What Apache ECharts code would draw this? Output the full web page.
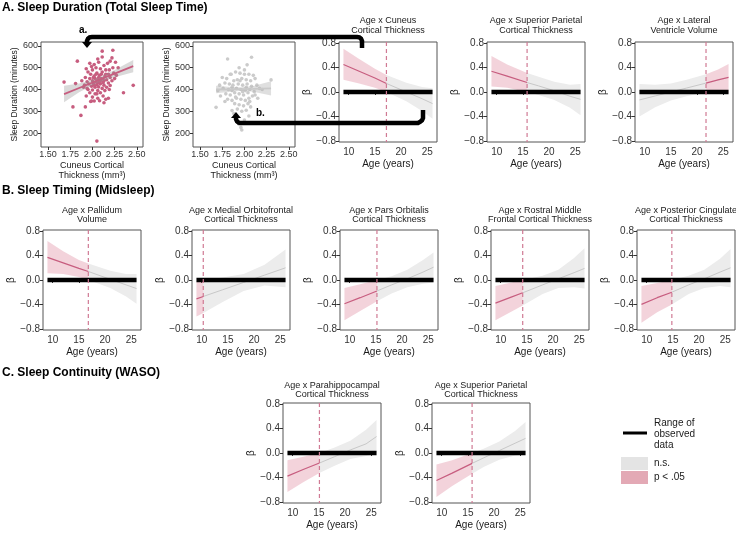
<!DOCTYPE html>
<html><head><meta charset="utf-8">
<script src="https://cdn.jsdelivr.net/npm/echarts@6/dist/echarts.min.js"></script>
<style>html,body{margin:0;padding:0;background:#fff}#c{width:736px;height:536px}</style>
</head><body><div id="c"></div>
<script>
// ---------------- DATA ----------------
const betaTicks = [-0.8, -0.4, 0, 0.4, 0.8];
const ageTicks = [10, 15, 20, 25];
const thickTicks = [1.5, 1.75, 2.0, 2.25, 2.5];
const sleepTicks = [200, 300, 400, 500, 600];
const observedAge = [9, 26];

// scatter a. (significant example) [thickness mm, sleep minutes]
const tstSigPoints = [[1.68,434],[1.81,427],[1.83,530],[1.78,320],[1.92,320],[1.87,281],[2.05,163],[2.46,419],[2.35,385],[2.11,576],[2.23,580],[2.11,549],[2.22,545],[2.13,339],[1.99,347],[2.02,347],[2.05,380],[1.95,400],[1.90,410],
[1.97,520],[2.02,515],[2.07,525],[2.13,510],[2.17,520],[2.20,530],[2.26,525],[2.29,500],[2.04,500],[2.09,495],[2.15,490],[2.00,490],[1.95,480],[2.05,475],[2.11,480],[2.18,470],[2.24,475],[1.98,470],[2.02,462],[2.08,465],[2.14,460],[2.20,455],[1.92,455],[1.97,450],[2.03,450],[2.06,445],[2.10,450],[2.16,445],[2.22,440],[2.27,465],[1.88,440],[1.94,435],[2.00,440],[2.04,435],[2.08,438],[2.12,432],[2.18,430],[2.25,450],[1.96,425],[2.01,428],[2.05,422],[2.09,426],[2.13,420],[2.20,418],[1.91,420],[1.99,415],[2.03,410],[2.07,412],[2.11,405],[2.16,410],[1.94,405],[2.00,398],[2.06,395],[2.14,395],[2.19,400],[1.97,385],[2.03,380],[2.09,385],[2.12,370],[2.00,365],[2.06,360],[2.15,355],[1.98,345],[2.08,348],[2.18,360],[1.93,370],[2.04,470],[2.10,470],[2.07,455],[2.01,455],[2.12,448],[2.15,470],[1.99,505],[2.06,540],[1.93,495],[2.19,490],[2.23,500],[2.13,440],[2.06,430],[2.02,420],[2.09,440]];
const tstSigFitX  = [1.68, 1.85, 2.05, 2.25, 2.46];
const tstSigFitY  = [379, 407, 440, 473, 507];
const tstSigFitLo = [341, 387, 430, 456, 479];
const tstSigFitHi = [417, 427, 450, 490, 535];

// scatter b. (non-significant example)
const tstNsPoints = [[1.81,540],[2.08,548],[2.03,513],[2.30,444],[1.68,318],[1.86,303],[2.05,278],[1.96,226],[1.97,214],[1.94,240],[2.00,260],
[1.75,455],[1.80,450],[1.85,470],[1.90,480],[1.95,475],[2.00,490],[2.05,470],[2.10,465],[1.88,440],[1.92,445],[1.97,450],[2.02,445],[2.07,440],[2.12,450],[1.78,430],[1.83,425],[1.87,420],[1.93,425],[1.98,420],[2.03,425],[2.08,415],[2.14,420],[1.76,405],[1.82,400],[1.86,395],[1.91,405],[1.96,400],[2.01,395],[2.06,400],[2.11,390],[2.17,405],[1.79,380],[1.84,375],[1.89,385],[1.94,380],[1.99,375],[2.04,385],[2.09,370],[1.73,370],[1.81,355],[1.86,350],[1.91,360],[1.96,355],[2.01,350],[2.06,345],[1.89,335],[1.94,330],[1.99,325],[2.04,335],[1.92,310],[1.97,300],[2.02,305],[1.88,290],[2.07,320],[1.70,395],[1.72,420],[1.84,470],[1.94,500],[2.00,470],[2.12,375],[2.15,360],[1.78,345],[2.20,400],[1.95,440],[2.02,410],[1.90,365],[1.98,390],[2.05,360],[1.86,410]];
const tstNsFitX  = [1.68, 1.85, 1.97, 2.10, 2.30];
const tstNsFitY  = [400, 401, 402, 403, 405];
const tstNsFitLo = [383, 390, 394, 390, 372];
const tstNsFitHi = [417, 412, 410, 416, 438];

// ---- simple-slope panels: ages, estimate, lower CI, upper CI, J-N cut point ----
const cuneusAges = [9, 12, 15, 17.2, 21, 24, 26];
const cuneusEst  = [0.45, 0.34, 0.23, 0.14, 0.00, -0.11, -0.19];
const cuneusLo   = [0.20, 0.14, 0.07, 0.00, -0.15, -0.31, -0.44];
const cuneusHi   = [0.71, 0.54, 0.38, 0.28, 0.15, 0.08, 0.06];
const cuneusCut  = 17.2;

const supParAAges = [9, 12, 15.8, 18, 21, 24, 26];
const supParAEst  = [0.34, 0.26, 0.155, 0.10, 0.02, -0.07, -0.12];
const supParALo   = [0.09, 0.07, 0.00, -0.05, -0.13, -0.26, -0.38];
const supParAHi   = [0.59, 0.45, 0.31, 0.25, 0.17, 0.12, 0.13];
const supParACut  = 15.8;

const latVentAges = [9, 12, 15, 18, 21.7, 24, 26];
const latVentEst  = [-0.13, -0.065, 0.0, 0.065, 0.146, 0.20, 0.24];
const latVentLo   = [-0.40, -0.25, -0.14, -0.07, 0.0, 0.01, -0.02];
const latVentHi   = [0.13, 0.12, 0.14, 0.20, 0.29, 0.37, 0.46];
const latVentCut  = 21.7;

const pallidumAges = [9, 12, 15, 16.8, 21, 24, 26];
const pallidumEst  = [0.37, 0.28, 0.19, 0.14, 0.01, -0.08, -0.14];
const pallidumLo   = [0.11, 0.10, 0.05, 0.0, -0.13, -0.27, -0.39];
const pallidumHi   = [0.64, 0.47, 0.33, 0.27, 0.15, 0.10, 0.10];
const pallidumCut  = 16.8;

const medOrbAges = [9, 10.3, 14, 18, 22, 26];
const medOrbEst  = [-0.31, -0.27, -0.16, -0.04, 0.08, 0.20];
const medOrbLo   = [-0.60, -0.54, -0.36, -0.18, -0.09, -0.12];
const medOrbHi   = [-0.03, 0.0, 0.04, 0.10, 0.25, 0.50];
const medOrbCut  = 10.3;

const parsOrbAges = [9, 12, 15.2, 18, 21, 24, 26];
const parsOrbEst  = [-0.39, -0.29, -0.18, -0.08, 0.02, 0.13, 0.21];
const parsOrbLo   = [-0.66, -0.51, -0.35, -0.22, -0.12, -0.06, -0.04];
const parsOrbHi   = [-0.13, -0.07, 0.0, 0.06, 0.17, 0.33, 0.45];
const parsOrbCut  = 15.2;

const rostMidAges = [9, 12, 14.2, 18, 21, 24, 26];
const rostMidEst  = [-0.38, -0.28, -0.21, -0.08, 0.02, 0.12, 0.19];
const rostMidLo   = [-0.66, -0.52, -0.42, -0.23, -0.13, -0.12, -0.14];
const rostMidHi   = [-0.10, -0.04, 0.0, 0.07, 0.17, 0.36, 0.52];
const rostMidCut  = 14.2;

const postCingAges = [9, 12, 14.8, 18, 21, 24, 26];
const postCingEst  = [-0.40, -0.29, -0.20, -0.08, 0.02, 0.13, 0.20];
const postCingLo   = [-0.70, -0.53, -0.40, -0.23, -0.13, -0.10, -0.12];
const postCingHi   = [-0.10, -0.05, 0.0, 0.07, 0.17, 0.35, 0.51];
const postCingCut  = 14.8;

const paraHipAges = [9, 12, 15.1, 18, 21, 24, 26];
const paraHipEst  = [-0.38, -0.27, -0.165, -0.06, 0.05, 0.15, 0.27];
const paraHipLo   = [-0.64, -0.48, -0.33, -0.21, -0.10, -0.05, 0.00];
const paraHipHi   = [-0.12, -0.06, 0.0, 0.09, 0.20, 0.38, 0.54];
const paraHipCut  = 15.1;

const supParCAges = [9, 12, 15.8, 18, 21, 24, 26];
const supParCEst  = [-0.45, -0.33, -0.17, -0.08, 0.04, 0.16, 0.24];
const supParCLo   = [-0.72, -0.54, -0.34, -0.23, -0.11, -0.04, -0.02];
const supParCHi   = [-0.19, -0.12, 0.0, 0.07, 0.19, 0.36, 0.51];
const supParCCut  = 15.8;

const panelTitles = [
  'Age x Cuneus\nCortical Thickness',
  'Age x Superior Parietal\nCortical Thickness',
  'Age x Lateral\nVentricle Volume',
  'Age x Pallidum\nVolume',
  'Age x Medial Orbitofrontal\nCortical Thickness',
  'Age x Pars Orbitalis\nCortical Thickness',
  'Age x Rostral Middle\nFrontal Cortical Thickness',
  'Age x Posterior Cingulate\nCortical Thickness',
  'Age x Parahippocampal\nCortical Thickness',
  'Age x Superior Parietal\nCortical Thickness'
];
const sigSides = ['left','left','right','left','left','left','left','left','left','left'];

// ---------------- BUILD ----------------
const FONT = '"Liberation Sans", Arial, sans-serif';
const PINK = '#c75d7f';
const DASHPINK = '#d07a94';
const PINKBAND = 'rgba(214,110,136,0.30)';
const GREYBAND = '#ececec';
const GREYLINE = '#c8c8c8';

const betaPanels = [
  [cuneusAges, cuneusEst, cuneusLo, cuneusHi, cuneusCut],
  [supParAAges, supParAEst, supParALo, supParAHi, supParACut],
  [latVentAges, latVentEst, latVentLo, latVentHi, latVentCut],
  [pallidumAges, pallidumEst, pallidumLo, pallidumHi, pallidumCut],
  [medOrbAges, medOrbEst, medOrbLo, medOrbHi, medOrbCut],
  [parsOrbAges, parsOrbEst, parsOrbLo, parsOrbHi, parsOrbCut],
  [rostMidAges, rostMidEst, rostMidLo, rostMidHi, rostMidCut],
  [postCingAges, postCingEst, postCingLo, postCingHi, postCingCut],
  [paraHipAges, paraHipEst, paraHipLo, paraHipHi, paraHipCut],
  [supParCAges, supParCEst, supParCLo, supParCHi, supParCCut]
];
const betaPos = [[339,42],[487,42],[635,42],[43,230],[192,230],[340,230],[491,230],[637,230],[283,403],[432,403]];
const betaNameGap = [24,25,25,24,24,24,24,24,17,17];
const titleOffset = [26,26,26,24.5,24.5,24.5,24.5,24.5,22.5,22.5];

const grid = [], xAxis = [], yAxis = [], series = [], graphic = [];

function betaFmt(v){ const s = Math.abs(v).toFixed(1); return v < -1e-9 ? '\u2212' + s : s; }

function bandSeries(gi, xs, lo, hi, color, z){
  return { type:'custom', xAxisIndex:gi, yAxisIndex:gi, data:[[xs[0], lo[0]]], silent:true, z:z, clip:true,
    renderItem: function(params, api){
      const pts = [];
      for (let i=0;i<xs.length;i++) pts.push(api.coord([xs[i], hi[i]]));
      for (let i=xs.length-1;i>=0;i--) pts.push(api.coord([xs[i], lo[i]]));
      return { type:'polygon', shape:{points:pts}, style:{fill:color} };
    } };
}
function lineSeries(gi, xs, ys, color, width, z){
  return { type:'line', xAxisIndex:gi, yAxisIndex:gi, data: xs.map((x,i)=>[x, ys[i]]),
    showSymbol:false, symbol:'none', silent:true, z:z, lineStyle:{color:color, width:width, cap:'butt'}, clip:true };
}
function rangeSeries(gi, xs, cut){
  return { type:'custom', xAxisIndex:gi, yAxisIndex:gi, data:[[xs[0], 0]], silent:true, z:3, clip:true,
    renderItem: function(params, api){
      const a = api.coord([xs[0], 0]), b = api.coord([xs[1], 0]);
      const t = api.coord([cut, 0.82]), u = api.coord([cut, -0.82]);
      return { type:'group', children:[
        { type:'line', shape:{x1:a[0], y1:a[1], x2:b[0], y2:b[1]}, style:{stroke:'#000', lineWidth:4.5, lineCap:'butt'} },
        { type:'line', shape:{x1:t[0], y1:t[1], x2:u[0], y2:u[1]}, style:{stroke:DASHPINK, lineWidth:1.2, lineDash:[4,3]} }
      ] };
    } };
}
function axisCommon(ticks){
  return { axisLine:{show:false}, splitLine:{show:false},
    axisTick:{show:true, length:3, customValues:ticks, lineStyle:{color:'#333', width:1}} };
}

betaPanels.forEach((p, k) => {
  const [ages, est, lo, hi, cut] = p;
  const gi = grid.length;
  const pos = betaPos[k];
  grid.push({ left:pos[0], top:pos[1], width:98, height:100, show:true, borderColor:'#555', borderWidth:1, backgroundColor:'#fff' });
  xAxis.push(Object.assign(axisCommon(ageTicks), { type:'value', gridIndex:gi, min:8.15, max:26.85,
    name:'Age (years)', nameLocation:'middle', nameGap:17,
    nameTextStyle:{fontSize:10, color:'#1a1a1a', fontFamily:FONT},
    axisLabel:{customValues:ageTicks, fontSize:10, color:'#333', margin:5, fontFamily:FONT} }));
  yAxis.push(Object.assign(axisCommon(betaTicks), { type:'value', gridIndex:gi, min:-0.82, max:0.82,
    name:'β', nameLocation:'middle', nameGap:betaNameGap[k], nameRotate:90,
    nameTextStyle:{fontSize:10, color:'#1a1a1a', fontFamily:FONT},
    axisLabel:{customValues:betaTicks, fontSize:10, color:'#333', margin:3, fontFamily:FONT, formatter:betaFmt} }));

  const left = [], right = [];
  ages.forEach((a,i)=>{ if (a <= cut) left.push(i); if (a >= cut) right.push(i); });
  const sigIdx = sigSides[k] === 'left' ? left : right;
  const nsIdx  = sigSides[k] === 'left' ? right : left;
  const pick = (arr, idx) => idx.map(i => arr[i]);

  series.push(bandSeries(gi, pick(ages,nsIdx), pick(lo,nsIdx), pick(hi,nsIdx), GREYBAND, 1));
  series.push(bandSeries(gi, pick(ages,sigIdx), pick(lo,sigIdx), pick(hi,sigIdx), PINKBAND, 1));
  series.push(lineSeries(gi, pick(ages,nsIdx), pick(est,nsIdx), GREYLINE, 1, 2));
  series.push(lineSeries(gi, pick(ages,sigIdx), pick(est,sigIdx), PINK, 1.2, 2));
  series.push(rangeSeries(gi, observedAge, cut));

  graphic.push({ type:'text', x:pos[0]+49, y:pos[1]-titleOffset[k], silent:true,
    style:{ text:panelTitles[k], align:'center', verticalAlign:'top',
      fontSize:9, lineHeight:9.5, fill:'#1a1a1a', fontFamily:FONT } });
});

// scatter panels
function addScatter(pos, pts, fx, fy, flo, fhi, ptColor, bandColor, lineColor){
  const gi = grid.length;
  grid.push({ left:pos[0], top:pos[1], width:102, height:105, show:true, borderColor:'#555', borderWidth:1, backgroundColor:'#fff' });
  xAxis.push(Object.assign(axisCommon(thickTicks), { type:'value', gridIndex:gi, min:1.42, max:2.57,
    name:'Cuneus Cortical\nThickness (mm³)', nameLocation:'middle', nameGap:13,
    nameTextStyle:{fontSize:9, lineHeight:10.5, color:'#1a1a1a', fontFamily:FONT, verticalAlign:'top'},
    axisLabel:{customValues:thickTicks, fontSize:9, color:'#333', margin:3, fontFamily:FONT, formatter:v=>v.toFixed(2)} }));
  yAxis.push(Object.assign(axisCommon(sleepTicks), { type:'value', gridIndex:gi, min:136, max:618,
    name:'Sleep Duration (minutes)', nameLocation:'middle', nameGap:21, nameRotate:90,
    nameTextStyle:{fontSize:8.5, color:'#1a1a1a', fontFamily:FONT},
    axisLabel:{customValues:sleepTicks, fontSize:9, color:'#333', margin:3, fontFamily:FONT} }));
  series.push({ type:'scatter', xAxisIndex:gi, yAxisIndex:gi, data:pts, symbolSize:3.6, silent:true, z:1,
    itemStyle:{color:ptColor, opacity:1} });
  series.push(bandSeries(gi, fx, flo, fhi, bandColor, 2));
  series.push(lineSeries(gi, fx, fy, lineColor, 1.8, 3));
}
addScatter([41,42], tstSigPoints, tstSigFitX, tstSigFitY, tstSigFitLo, tstSigFitHi, '#c75d7f', 'rgba(150,150,150,0.35)', '#c75d7f');
addScatter([193,42], tstNsPoints, tstNsFitX, tstNsFitY, tstNsFitLo, tstNsFitHi, '#cbcbcb', 'rgba(185,185,185,0.45)', '#c9c9c9');

// section headers
[['A. Sleep Duration (Total Sleep Time)', 2], ['B. Sleep Timing (Midsleep)', 185], ['C. Sleep Continuity (WASO)', 367]].forEach(t => {
  graphic.push({ type:'text', x:2, y:t[1], silent:true,
    style:{ text:t[0], fontSize:12, fontWeight:'bold', fill:'#000', fontFamily:FONT, verticalAlign:'top' } });
});

// connector arrows a. and b.
graphic.push({ type:'polyline', silent:true, z:100,
  shape:{ points:[[87,43],[87,41],[88,38.6],[89.6,37.4],[92,37],[357,37],[359.4,37.4],[361,38.6],[362,41],[362,48]] },
  style:{ stroke:'#000', lineWidth:4.5, fill:null } });
graphic.push({ type:'polygon', silent:true, z:100, shape:{ points:[[82,42],[92,42],[87,48]] }, style:{ fill:'#000' } });
graphic.push({ type:'polyline', silent:true, z:100,
  shape:{ points:[[423,110],[423,118],[422,120.4],[420.4,121.6],[418,123],[241,123],[238.6,122.6],[237,121.4],[236,119],[236,117]] },
  style:{ stroke:'#000', lineWidth:4.5, fill:null } });
graphic.push({ type:'polygon', silent:true, z:100, shape:{ points:[[231,118],[241,118],[236,112]] }, style:{ fill:'#000' } });
graphic.push({ type:'text', x:79, y:25, silent:true, z:100, style:{ text:'a.', fontSize:10, fontWeight:'bold', fill:'#000', fontFamily:FONT } });
graphic.push({ type:'text', x:256, y:108, silent:true, z:100, style:{ text:'b.', fontSize:10, fontWeight:'bold', fill:'#000', fontFamily:FONT } });

// legend
graphic.push({ type:'line', silent:true, shape:{x1:623, y1:433, x2:647, y2:433}, style:{stroke:'#000', lineWidth:3} });
graphic.push({ type:'text', x:654, y:418, silent:true, style:{ text:'Range of\nobserved\ndata', fontSize:10, lineHeight:11, fill:'#1a1a1a', fontFamily:FONT } });
graphic.push({ type:'rect', silent:true, shape:{x:621, y:457, width:27, height:13}, style:{fill:'#e4e4e4'} });
graphic.push({ type:'rect', silent:true, shape:{x:621, y:471, width:27, height:13}, style:{fill:'#e3a9b5'} });
graphic.push({ type:'text', x:654, y:458, silent:true, style:{ text:'n.s.', fontSize:10, fill:'#1a1a1a', fontFamily:FONT } });
graphic.push({ type:'text', x:654, y:472, silent:true, style:{ text:'p < .05', fontSize:10, fill:'#1a1a1a', fontFamily:FONT } });

const chart = echarts.init(document.getElementById('c'), null, {renderer:'canvas'});
chart.setOption({ animation:false, backgroundColor:'#fff', textStyle:{fontFamily:FONT},
  grid, xAxis, yAxis, series, graphic });
</script></body></html>
